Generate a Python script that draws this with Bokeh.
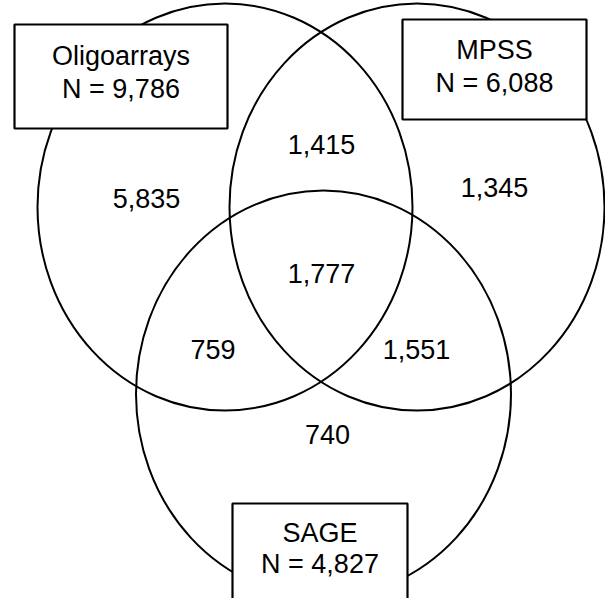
from bokeh.plotting import figure
from bokeh.models import Range1d, ColumnDataSource
from bokeh.core.properties import value
from bokeh.embed import file_html
from bokeh.resources import INLINE

# ---- data ----
set_names = ["Oligoarrays", "MPSS", "SAGE"]
set_totals = [9786, 6088, 4827]
region_names = ["Oligo only", "MPSS only", "SAGE only",
                "Oligo & MPSS", "Oligo & SAGE", "MPSS & SAGE", "All three"]
region_counts = [5835, 1345, 740, 1415, 759, 1551, 1777]

# ---- layout (pixel coordinates of the drawing) ----
W, H = 605, 598
FONT = value("Liberation Sans")
FS = "27px"

ell_x = [224.5, 416.5, 323.0]
ell_y = [206.5, 206.5, 393.5]
ell_rx = 187.5
ell_ry = 203.5

box_left = [14, 402, 232]
box_right = [227, 586, 407]
box_top = [24, 19, 503]
box_bottom = [128, 119, 640]
label_x = [120.5, 494, 319.5]
label_y1 = [55, 49, 532]
label_y2 = [88, 82, 563]

region_x = [146, 494, 327, 321, 212.5, 416, 321]
region_y = [198, 187, 434, 144, 349, 349, 273]

p = figure(width=W, height=H, output_backend="svg", toolbar_location=None,
           x_range=Range1d(0, W), y_range=Range1d(H, 0),
           min_border=0, border_fill_color="white", background_fill_color="white")
p.xaxis.visible = False
p.yaxis.visible = False
p.grid.visible = False
p.outline_line_color = None

p.ellipse(x=ell_x, y=ell_y, width=[2 * ell_rx] * 3, height=[2 * ell_ry] * 3,
          fill_color=None, line_color="black", line_width=2)

p.quad(left=box_left, right=box_right, top=box_top, bottom=box_bottom,
       fill_color="white", line_color="black", line_width=2.2)

src1 = ColumnDataSource(dict(x=label_x, y=label_y1, t=set_names))
p.text(x="x", y="y", text="t", source=src1, text_align="center",
       text_baseline="middle", text_font=FONT, text_font_size=FS, text_color="black")
src2 = ColumnDataSource(dict(x=label_x, y=label_y2,
                             t=[f"N = {n:,}" for n in set_totals]))
p.text(x="x", y="y", text="t", source=src2, text_align="center",
       text_baseline="middle", text_font=FONT, text_font_size=FS, text_color="black")

src3 = ColumnDataSource(dict(x=region_x, y=region_y,
                             t=[f"{n:,}" for n in region_counts]))
p.text(x="x", y="y", text="t", source=src3, text_align="center",
       text_baseline="middle", text_font=FONT, text_font_size=FS, text_color="black")

open("out.html", "w").write(file_html(p, INLINE))
